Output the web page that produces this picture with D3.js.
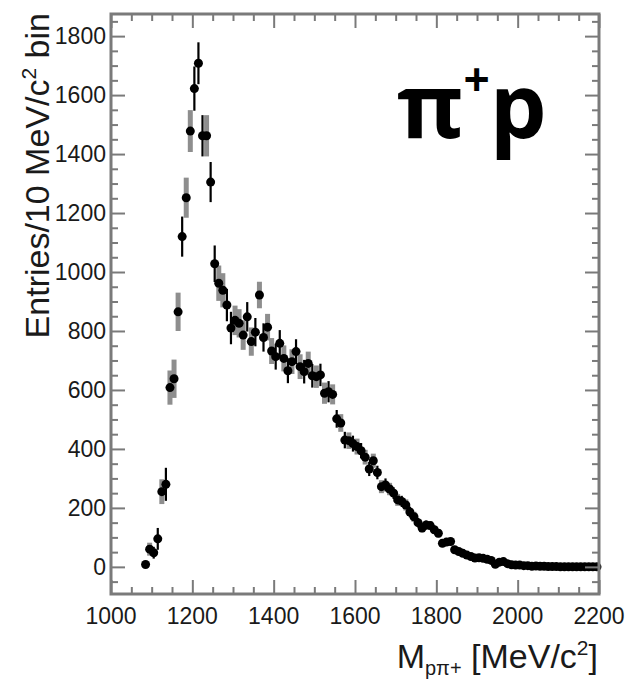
<!DOCTYPE html>
<html>
<head>
<meta charset="utf-8">
<script src="https://cdn.jsdelivr.net/npm/d3@7"></script>
<style>
  body { margin: 0; background: #fff; }
  svg text { font-family: "Liberation Sans", Arial, Helvetica, sans-serif; fill: #1a1a1a; }
</style>
</head>
<body>
<div id="chart"></div>
<script>
// bin centres, MeV/c^2 (10 MeV bins)
const mass = [
  1085, 1095, 1105, 1115, 1125, 1135, 1145, 1155, 1165, 1175,
  1185, 1195, 1205, 1215, 1225, 1235, 1245, 1255, 1265, 1275,
  1285, 1295, 1305, 1315, 1325, 1335, 1345, 1355, 1365, 1375,
  1385, 1395, 1405, 1415, 1425, 1435, 1445, 1455, 1465, 1475,
  1485, 1495, 1505, 1515, 1525, 1535, 1545, 1555, 1565, 1575,
  1585, 1595, 1605, 1615, 1625, 1635, 1645, 1655, 1665, 1675,
  1685, 1695, 1705, 1715, 1725, 1735, 1745, 1755, 1765, 1775,
  1785, 1795, 1805, 1815, 1825, 1835, 1845, 1855, 1865, 1875,
  1885, 1895, 1905, 1915, 1925, 1935, 1945, 1955, 1965, 1975,
  1985, 1995, 2005, 2015, 2025, 2035, 2045, 2055, 2065, 2075,
  2085, 2095, 2105, 2115, 2125, 2135, 2145, 2155, 2165, 2175,
  2185, 2195
];

// entries per bin
const entries = [
  8, 60, 48, 95, 255, 280, 608, 638, 865, 1120,
  1252, 1478, 1622, 1708, 1462, 1462, 1305, 1028, 962, 938,
  888, 810, 836, 826, 786, 848, 764, 796, 922, 778,
  813, 732, 713, 758, 707, 665, 696, 730, 679, 662,
  690, 648, 645, 651, 589, 594, 585, 502, 488, 430,
  428, 418, 408, 394, 372, 332, 360, 320, 272, 278,
  264, 250, 227, 222, 210, 186, 170, 150, 132, 142,
  140, 126, 114, 80, 84, 86, 58, 52, 46, 40,
  35, 30, 31, 29, 26, 22, 9, 16, 18, 11,
  7, 6, 6, 4, 4, 2, 3, 2, 2, 1,
  1, 1, 0, 0, 0, 0, 0, 0, 0, 0,
  0, 0
];

// error half-length per bin
const errs = [
  10, 22, 20, 37, 42, 56, 58, 65, 65, 68,
  68, 71, 75, 71, 70, 70, 68, 62, 60, 58,
  55, 55, 50, 48, 50, 50, 48, 48, 45, 48,
  45, 44, 44, 45, 44, 42, 42, 42, 42, 40,
  40, 40, 38, 38, 36, 36, 34, 30, 30, 28,
  28, 27, 27, 26, 25, 24, 24, 23, 22, 22,
  21, 20, 20, 19, 19, 18, 17, 16, 15, 15,
  15, 14, 14, 12, 12, 12, 10, 10, 9, 9,
  8, 8, 8, 7, 7, 6, 4, 5, 5, 4,
  3, 3, 3, 2, 2, 2, 2, 2, 2, 1,
  1, 1, 0, 0, 0, 0, 0, 0, 0, 0,
  0, 0
];

// which error style each bin carries: "b" black, "g" grey
const errKind = [
  "b", "g", "b", "b", "g", "b", "g", "g", "g", "b",
  "g", "g", "b", "b", "b", "g", "b", "b", "g", "g",
  "b", "b", "g", "g", "g", "b", "g", "b", "g", "b",
  "g", "g", "b", "b", "g", "b", "g", "b", "g", "b",
  "g", "b", "g", "b", "g", "b", "g", "b", "g", "b",
  "g", "b", "g", "b", "g", "b", "g", "b", "g", "b",
  "g", "b", "g", "b", "g", "b", "g", "b", "g", "b",
  "g", "b", "g", "b", "g", "b", "g", "b", "g", "b",
  "g", "b", "g", "b", "g", "b", "g", "b", "g", "b",
  "g", "b", "g", "b", "g", "b", "g", "b", "g", "b",
  "g", "b", "g", "b", "g", "b", "g", "b", "g", "b",
  "g", "b"
];

const xTicks = [1000, 1200, 1400, 1600, 1800, 2000, 2200];
const yTicks = [0, 200, 400, 600, 800, 1000, 1200, 1400, 1600, 1800];

const W = 631, H = 685;
const frame = { left: 111, right: 599, top: 14, bottom: 594 };

const svg = d3.select('#chart').append('svg')
  .attr('width', W).attr('height', H);

const x = d3.scaleLinear().domain([1000, 2200]).range([frame.left, frame.right]);
const y = d3.scaleLinear().domain([-92, 1875]).range([frame.bottom, frame.top]);

const pts = mass.map((m, i) => ({ m: m, v: entries[i], e: errs[i], k: errKind[i] }));

// grey error bars
svg.append('g').selectAll('line')
  .data(pts.filter(d => d.k === 'g' && d.e > 0))
  .enter().append('line')
  .attr('x1', d => x(d.m)).attr('x2', d => x(d.m))
  .attr('y1', d => y(d.v - d.e)).attr('y2', d => y(d.v + d.e))
  .attr('stroke', '#8e8e8e').attr('stroke-width', 5);

// black error bars
svg.append('g').selectAll('line')
  .data(pts.filter(d => d.k === 'b' && d.e > 0))
  .enter().append('line')
  .attr('x1', d => x(d.m)).attr('x2', d => x(d.m))
  .attr('y1', d => y(d.v - d.e)).attr('y2', d => y(d.v + d.e))
  .attr('stroke', '#000').attr('stroke-width', 2.2);

// markers
svg.append('g').selectAll('circle')
  .data(pts)
  .enter().append('circle')
  .attr('cx', d => x(d.m)).attr('cy', d => y(d.v))
  .attr('r', 4.5).attr('fill', '#000');

// axes (ticks on all four sides, like a ROOT frame)
const axisCol = '#7a7a7a';
function styleAxis(g) {
  g.select('.domain').remove();
  g.selectAll('.tick line').attr('stroke', axisCol).attr('stroke-width', 2);
}
const xMinor = d3.range(1000, 2201, 50).filter(v => v % 200 !== 0);
const yMinor = d3.range(-50, 1876, 50).filter(v => v % 200 !== 0);

const gx = svg.append('g').attr('transform', `translate(0,${frame.bottom})`)
  .call(d3.axisTop(x).tickValues(xTicks).tickSize(14).tickFormat(''));
styleAxis(gx);
const gxm = svg.append('g').attr('transform', `translate(0,${frame.bottom})`)
  .call(d3.axisTop(x).tickValues(xMinor).tickSize(7).tickFormat(''));
styleAxis(gxm);
const gxt = svg.append('g').attr('transform', `translate(0,${frame.top})`)
  .call(d3.axisBottom(x).tickValues(xTicks).tickSize(14).tickFormat(''));
styleAxis(gxt);
const gxtm = svg.append('g').attr('transform', `translate(0,${frame.top})`)
  .call(d3.axisBottom(x).tickValues(xMinor).tickSize(7).tickFormat(''));
styleAxis(gxtm);

const gy = svg.append('g').attr('transform', `translate(${frame.left},0)`)
  .call(d3.axisRight(y).tickValues(yTicks).tickSize(14).tickFormat(''));
styleAxis(gy);
const gym = svg.append('g').attr('transform', `translate(${frame.left},0)`)
  .call(d3.axisRight(y).tickValues(yMinor).tickSize(7).tickFormat(''));
styleAxis(gym);
const gyr = svg.append('g').attr('transform', `translate(${frame.right},0)`)
  .call(d3.axisLeft(y).tickValues(yTicks).tickSize(14).tickFormat(''));
styleAxis(gyr);
const gyrm = svg.append('g').attr('transform', `translate(${frame.right},0)`)
  .call(d3.axisLeft(y).tickValues(yMinor).tickSize(7).tickFormat(''));
styleAxis(gyrm);

// frame
svg.append('rect')
  .attr('x', frame.left).attr('y', frame.top)
  .attr('width', frame.right - frame.left).attr('height', frame.bottom - frame.top)
  .attr('fill', 'none').attr('stroke', axisCol).attr('stroke-width', 3);

// tick labels
svg.append('g').selectAll('text')
  .data(xTicks).enter().append('text')
  .attr('x', d => x(d)).attr('y', 624)
  .attr('text-anchor', 'middle')
  .style('font-size', '23px')
  .text(d => d);

svg.append('g').selectAll('text')
  .data(yTicks).enter().append('text')
  .attr('x', 106).attr('y', d => y(d) + 8)
  .attr('text-anchor', 'end')
  .style('font-size', '23px')
  .text(d => d);

// axis titles
const yt = svg.append('text')
  .attr('transform', 'translate(49,13) rotate(-90)')
  .attr('text-anchor', 'end')
  .style('font-size', '34px');
yt.append('tspan').text('Entries/10 MeV/c');
yt.append('tspan').attr('dy', -13).style('font-size', '21px').text('2');
yt.append('tspan').attr('dy', 13).text(' bin');

const xt = svg.append('text')
  .attr('x', 598).attr('y', 668)
  .attr('text-anchor', 'end')
  .style('font-size', '34px');
xt.append('tspan').text('M');
xt.append('tspan').attr('dy', 7).style('font-size', '20px').text('pπ+');
xt.append('tspan').attr('dy', -7).text(' [MeV/c');
xt.append('tspan').attr('dy', -13).style('font-size', '21px').text('2');
xt.append('tspan').attr('dy', 13).text(']');

// reaction label
const lab = svg.append('text')
  .attr('x', 397).attr('y', 138)
  .style('font-family', '"Open Sans", "Noto Sans", sans-serif')
  .style('font-weight', 'bold')
  .style('font-size', '90px')
  .style('fill', '#000');
lab.append('tspan').text('π');
lab.append('tspan').attr('dy', -42).style('font-size', '46px').text('+');
lab.append('tspan').attr('dy', 42).text('p');
</script>
</body>
</html>
